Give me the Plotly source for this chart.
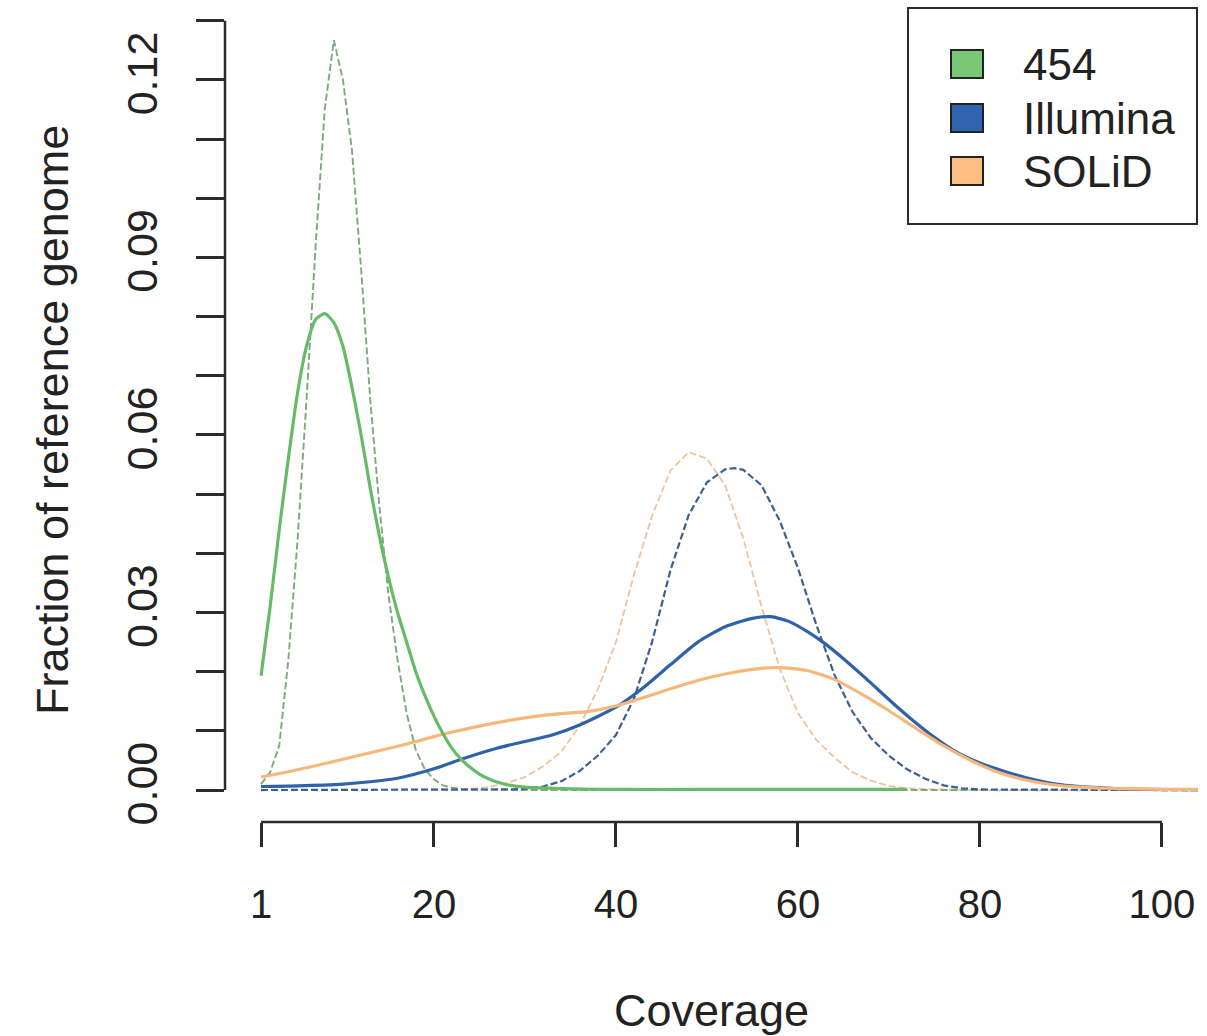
import plotly.graph_objects as go

# ---------------- data ----------------
g_solid_x = [1, 2, 3, 4, 5, 6, 7, 8, 9, 10, 11, 12, 13, 14, 15, 16, 17, 18, 19, 20,
             21, 22, 23, 24, 25, 26, 27, 28, 30, 35, 40, 50, 60, 72]
g_solid_y = [0.0193, 0.031, 0.044, 0.056, 0.067, 0.075, 0.0795, 0.0805, 0.079, 0.075,
             0.068, 0.060, 0.051, 0.043, 0.036, 0.030, 0.025, 0.020, 0.016, 0.0125,
             0.0095, 0.007, 0.0052, 0.0038, 0.0027, 0.0019, 0.0013, 0.0009, 0.0005,
             0.0002, 0.0001, 0.0001, 0.0001, 0.0001]

g_dash_x = [1, 2, 3, 4, 5, 6, 7, 8, 9, 10, 11, 12, 13, 14, 15, 16, 17, 18, 19, 20,
            21, 22, 23, 24, 30, 40, 104]
g_dash_y = [0.001, 0.003, 0.0075, 0.022, 0.042, 0.066, 0.092, 0.115, 0.1267, 0.120,
            0.108, 0.088, 0.066, 0.048, 0.033, 0.022, 0.013, 0.0068, 0.0035, 0.0018,
            0.0008, 0.0004, 0.0002, 0.0001, 0.0, 0.0, 0.0]

b_solid_x = [1, 5, 10, 13, 16, 20, 23, 27, 30, 33, 36, 40, 43, 46, 49, 52, 55, 57, 59,
             61, 63, 65, 67, 69, 71, 73, 75, 77, 79, 81, 83, 85, 87, 89, 91, 93, 95, 98, 104]
b_solid_y = [0.0006, 0.0007, 0.001, 0.0014, 0.002, 0.0036, 0.0052, 0.0071, 0.0082,
             0.0093, 0.011, 0.014, 0.0173, 0.0212, 0.025, 0.0276, 0.029, 0.0293, 0.0285,
             0.0268, 0.0247, 0.0222, 0.0195, 0.0167, 0.0139, 0.0113, 0.0089, 0.0068,
             0.0052, 0.004, 0.003, 0.0021, 0.0014, 0.0009, 0.0006, 0.0004, 0.0002,
             0.0001, 0.00005]

b_dash_x = [1, 10, 20, 28, 30, 32, 34, 36, 38, 40, 42, 44, 46, 48, 50, 52, 53, 54, 56,
            58, 60, 62, 64, 66, 68, 70, 72, 74, 76, 78, 80, 85, 90, 100, 104]
b_dash_y = [0.0, 0.0, 0.0, 0.0001, 0.0002, 0.0006, 0.0015, 0.0032, 0.0058, 0.0093,
            0.0155, 0.0252, 0.0372, 0.0465, 0.0520, 0.0542, 0.0544, 0.0541, 0.0515,
            0.0455, 0.0375, 0.028, 0.0195, 0.0132, 0.0088, 0.0058, 0.0035, 0.0019,
            0.0008, 0.0003, 0.0001, 0.00005, 0.0, 0.0, 0.0]

o_solid_x = [1, 4, 7, 10, 13, 16, 19, 22, 25, 28, 31, 34, 37, 40, 43, 46, 49, 52, 55,
             58, 61, 64, 67, 70, 73, 76, 79, 82, 85, 88, 91, 94, 97, 100, 104]
o_solid_y = [0.0022, 0.0031, 0.0041, 0.0052, 0.0063, 0.0074, 0.0086, 0.0098, 0.0108,
             0.0117, 0.0124, 0.0129, 0.0133, 0.0142, 0.0156, 0.0171, 0.0185, 0.0196,
             0.0204, 0.0207, 0.0202, 0.0187, 0.0162, 0.0134, 0.0104, 0.0075, 0.0050,
             0.0030, 0.0017, 0.0009, 0.0005, 0.0003, 0.0002, 0.0001, 0.0001]

o_dash_x = [1, 10, 20, 24, 26, 28, 30, 32, 34, 36, 38, 40, 42, 44, 46, 48, 50, 52, 54,
            56, 58, 60, 62, 64, 66, 68, 70, 72, 75, 80, 90, 104]
o_dash_y = [0.0, 0.0, 0.0001, 0.0002, 0.0005, 0.0012, 0.0022, 0.0040, 0.0065, 0.0108,
            0.017, 0.0250, 0.0365, 0.0465, 0.0540, 0.0571, 0.0560, 0.0515, 0.0425,
            0.031, 0.0205, 0.013, 0.0085, 0.0055, 0.0030, 0.0016, 0.0007, 0.0003,
            0.0001, 0.0, 0.0, 0.0]

x_tick_vals = [1, 20, 40, 60, 80, 100]
x_tick_text = ["1", "20", "40", "60", "80", "100"]
y_tick_vals = [i / 100 for i in range(14)]
y_tick_text = ["0.00", "", "", "0.03", "", "", "0.06", "", "", "0.09", "", "", "0.12", ""]

legend_labels = ["454", "Illumina", "SOLiD"]
legend_fill = ["#78C878", "#2F64AE", "#FDBE84"]

# ---------------- styling ----------------
FONT = "Liberation Sans, Arial, Helvetica, sans-serif"
AX = "#2b2b2b"
W, H = 1207, 1036
ML, MR, MT, MB = 225, 9, 0, 214
PW, PH = W - ML - MR, H - MT - MB


def px_x(px):
    return (px - ML) / PW


def px_y(py):
    return (H - MB - py) / PH


fig = go.Figure()

traces = [
    (o_dash_x, o_dash_y, "#EFC39A", 1.8, "7px,3px", "linear"),
    (g_dash_x, g_dash_y, "#7FA880", 1.9, "7px,3px", "linear"),
    (b_dash_x, b_dash_y, "#3C5F96", 2.2, "7px,3px", "linear"),
    (b_solid_x, b_solid_y, "#2F62A8", 3.2, "solid", "spline"),
    (o_solid_x, o_solid_y, "#F6B67C", 3.2, "solid", "spline"),
    (g_solid_x, g_solid_y, "#66BB66", 3.2, "solid", "spline"),
]
for xs, ys, col, w, dash, shape in traces:
    fig.add_trace(go.Scatter(x=xs, y=ys, mode="lines",
                             line=dict(color=col, width=w, dash=dash, shape=shape,
                                       smoothing=0.6),
                             showlegend=False, hoverinfo="skip"))

shapes = [
    # R-style axis lines spanning the tick range
    dict(type="line", xref="x", yref="paper", x0=1, x1=100, y0=0, y1=0,
         line=dict(color=AX, width=2.5)),
    dict(type="line", xref="paper", yref="y", x0=0, x1=0, y0=0, y1=0.13,
         line=dict(color=AX, width=2.5)),
    # legend box
    dict(type="rect", xref="paper", yref="paper",
         x0=px_x(908), x1=px_x(1197), y0=px_y(224), y1=px_y(8),
         line=dict(color=AX, width=2), fillcolor="white", layer="above"),
]
annotations = []
legend_rows = [64, 118, 171]
for lab, fill, cy in zip(legend_labels, legend_fill, legend_rows):
    shapes.append(dict(type="rect", xref="paper", yref="paper",
                       x0=px_x(951), x1=px_x(983), y0=px_y(cy + 14), y1=px_y(cy - 14),
                       line=dict(color="#222222", width=2), fillcolor=fill, layer="above"))
    annotations.append(dict(text=lab, xref="paper", yref="paper", x=px_x(1021), y=px_y(cy),
                            xanchor="left", yanchor="middle", showarrow=False,
                            font=dict(family=FONT, size=44, color="#222222")))

annotations.append(dict(text="Coverage", xref="paper", yref="paper",
                        x=px_x(711), y=px_y(1010), xanchor="center", yanchor="middle",
                        showarrow=False, font=dict(family=FONT, size=45, color="#222222")))
annotations.append(dict(text="Fraction of reference genome", xref="paper", yref="paper",
                        x=px_x(52), y=px_y(420), xanchor="center", yanchor="middle",
                        textangle=-90, showarrow=False,
                        font=dict(family=FONT, size=45, color="#222222")))

fig.update_layout(
    width=W, height=H,
    margin=dict(l=ML, r=MR, t=MT, b=MB, pad=0),
    plot_bgcolor="white", paper_bgcolor="white",
    showlegend=False,
    shapes=shapes, annotations=annotations,
    xaxis=dict(range=[-2.96, 103.96], tickmode="array", tickvals=x_tick_vals,
               ticktext=x_tick_text, ticks="outside", ticklen=24, tickwidth=2.5,
               tickcolor=AX, showgrid=False, zeroline=False, showline=False,
               ticklabelstandoff=23,
               tickfont=dict(family=FONT, size=40, color="#222222")),
    yaxis=dict(range=[-0.0054, 0.1335], tickmode="array", tickvals=y_tick_vals,
               ticktext=y_tick_text, ticks="outside", ticklen=28, tickwidth=2.5,
               tickcolor=AX, showgrid=False, zeroline=False, showline=False,
               tickangle=-90, ticklabelstandoff=22,
               tickfont=dict(family=FONT, size=43, color="#222222")),
)

fig.write_html("out.html", config={"displayModeBar": False},
               post_script="document.body.style.margin='0';document.body.style.padding='0';")
